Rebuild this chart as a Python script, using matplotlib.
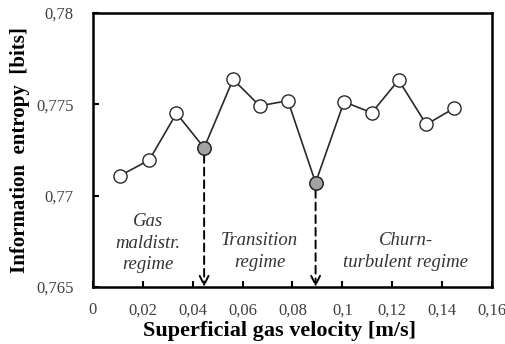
import matplotlib
matplotlib.use("Agg")
import matplotlib.pyplot as plt
from matplotlib.ticker import FuncFormatter, MultipleLocator

plt.rcParams['font.family'] = ['Liberation Serif', 'DejaVu Serif']

# gas velocity [m/s] and entropy [bits]
velocity = [0.0108, 0.0226, 0.0335, 0.0446, 0.0562, 0.0669, 0.0782,
            0.0893, 0.1007, 0.1118, 0.1226, 0.1337, 0.1448]
entropy = [0.77109, 0.77195, 0.77451, 0.77262, 0.77637, 0.77492, 0.77520,
           0.77071, 0.77514, 0.77454, 0.77633, 0.77390, 0.77478]
transitions = [3, 7]  # indices of regime transition points
regimes = ["Gas\nmaldistr.\nregime", "Transition\nregime", "Churn-\nturbulent regime"]
regime_x = [0.0220, 0.0669, 0.1254]
regime_y = [0.7674, 0.76694, 0.76694]

fig = plt.figure(figsize=(5.05, 3.44), dpi=100)
ax = fig.add_axes([0.184, 0.166, 0.79, 0.796])

ax.plot(velocity, entropy, color='#2a2a2a', lw=1.2, zorder=2)
ax.plot(velocity, entropy, 'o', ms=9.5, mfc='white', mec='#2a2a2a', mew=1.0, zorder=3)
tx = [velocity[i] for i in transitions]
ty = [entropy[i] for i in transitions]
ax.plot(tx, ty, 'o', ms=9.5, mfc='#a3a3a3', mec='#2a2a2a', mew=1.0, zorder=4)

for x, y in zip(tx, ty):
    ax.annotate('', xy=(x, 0.765), xytext=(x, y - 0.0004),
                arrowprops=dict(arrowstyle='->', ls=(0, (4, 2.5)), lw=1.4, color='black',
                                mutation_scale=16, shrinkA=0, shrinkB=0))

for t, x, y in zip(regimes, regime_x, regime_y):
    ax.text(x, y, t, ha='center', va='center', style='italic', fontsize=13.5,
            color='#333333', linespacing=1.35)

ax.set_xlim(0, 0.16)
ax.set_ylim(0.765, 0.78)
ax.xaxis.set_major_locator(MultipleLocator(0.02))
ax.yaxis.set_major_locator(MultipleLocator(0.005))
fmt = FuncFormatter(lambda v, p: f"{round(v, 4):g}".replace('.', ','))
ax.xaxis.set_major_formatter(fmt)
ax.yaxis.set_major_formatter(fmt)
ax.tick_params(direction='in', length=4, width=1.5, labelsize=12,
               labelcolor='#404040')
ax.tick_params(axis='x', pad=11)
ax.tick_params(axis='y', pad=14)
for s in ax.spines.values():
    s.set_linewidth(1.8)

ax.set_xlabel('Superficial gas velocity [m/s]', fontsize=16, fontweight='bold', labelpad=0)
ax.xaxis.set_label_coords(0.468, -0.125)
ax.set_ylabel('Information  entropy  [bits]', fontsize=15, fontweight='bold', labelpad=4)

fig.savefig('out.png', dpi=100)
